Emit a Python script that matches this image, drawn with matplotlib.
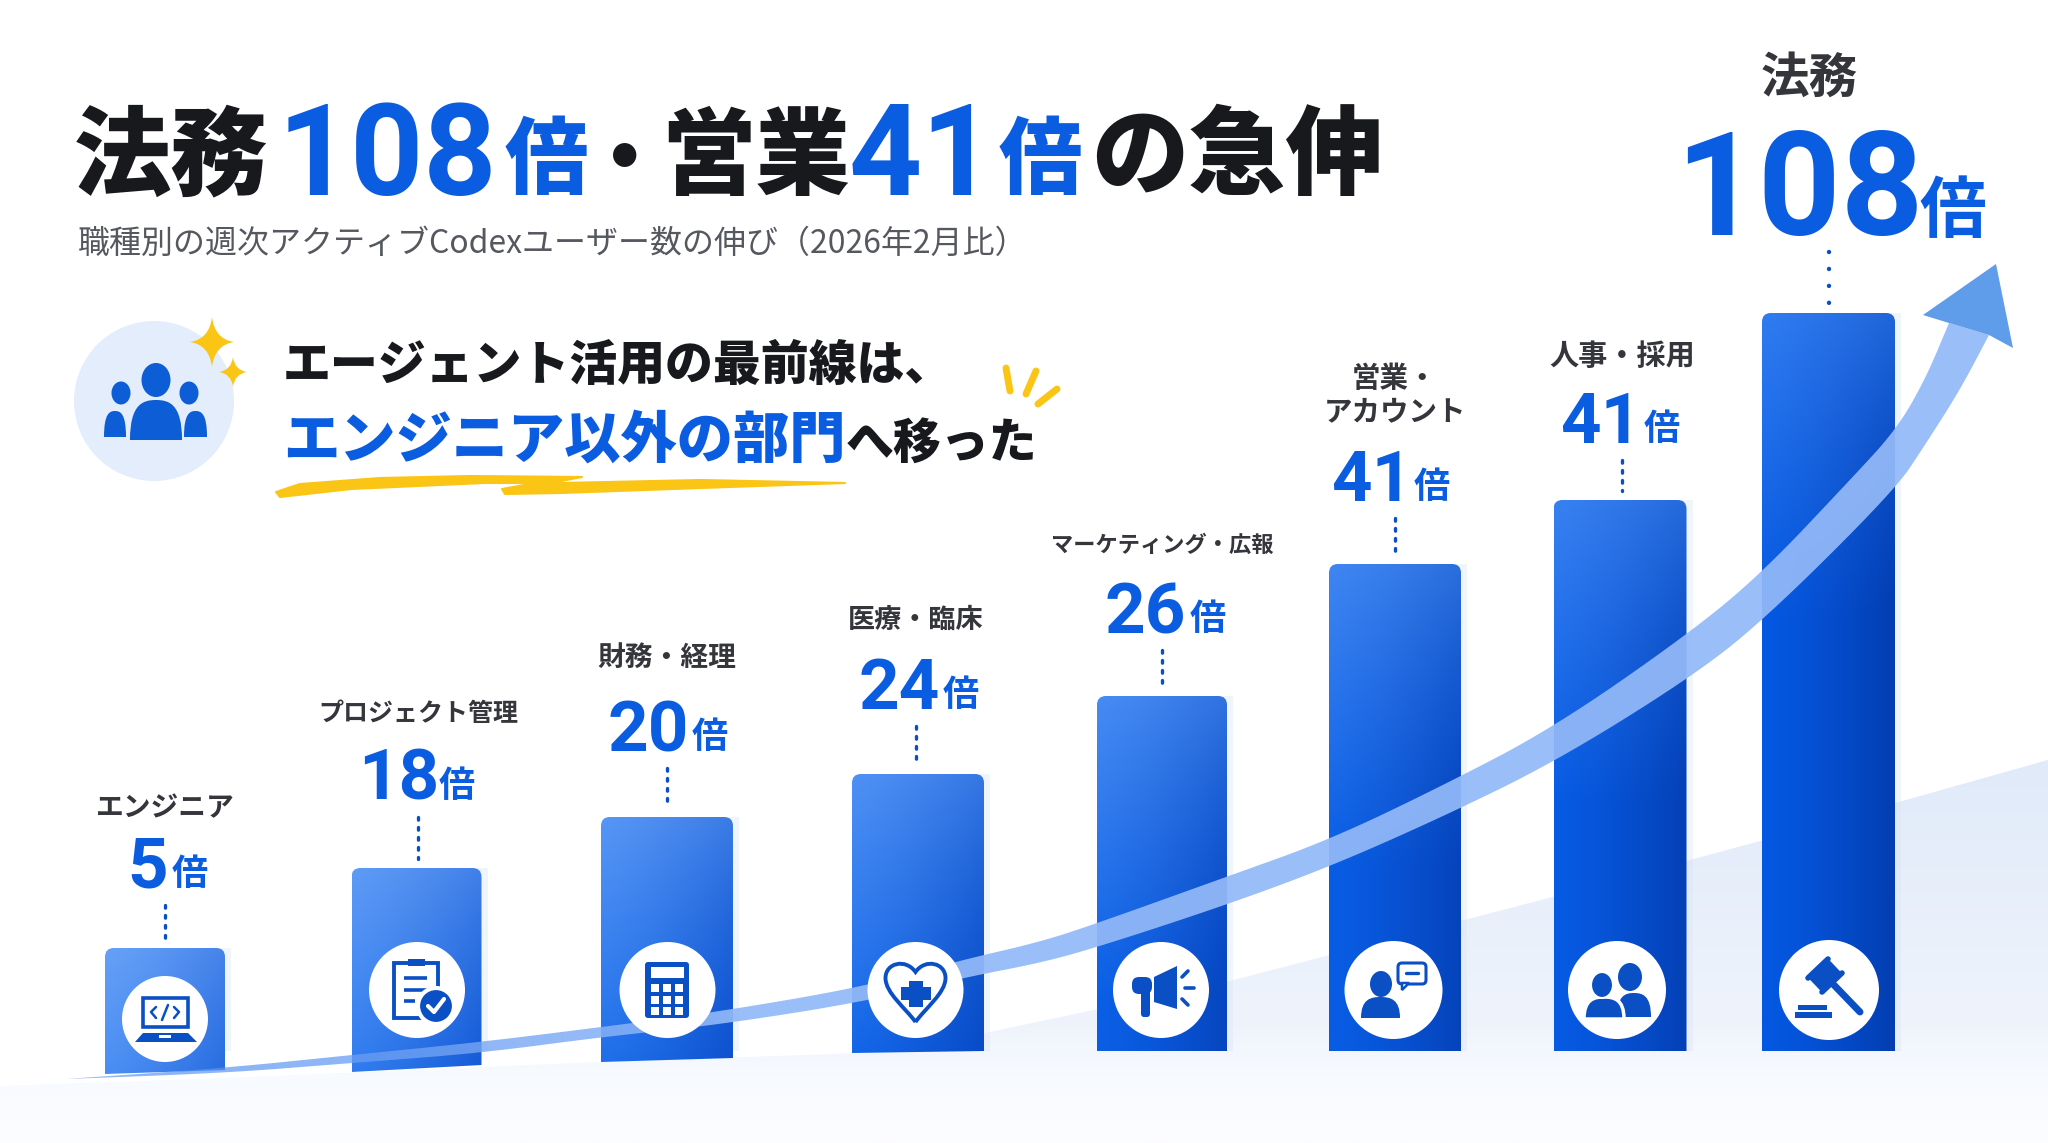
import numpy as np
import matplotlib
matplotlib.use('Agg')
import matplotlib.pyplot as plt
from matplotlib.colors import to_rgb
from matplotlib.patches import Circle, Ellipse, Polygon, Rectangle, PathPatch, FancyBboxPatch
from matplotlib.path import Path

# data
categories = ['エンジニア', 'プロジェクト管理', '財務・経理', '医療・臨床',
              'マーケティング・広報', '営業・\nアカウント', '人事・採用', '法務']
multiples = [5, 18, 20, 24, 26, 41, 41, 108]
# drawn height of each bar (the picture is not to scale with the multiples)
bar_heights = [103, 183, 234, 277, 355, 487, 551, 738]

title_runs = [('法務', 'k'), ('108', 'b'), ('倍', 'b'), ('・', 'k'), ('営業', 'k'),
              ('41', 'b'), ('倍', 'b'), ('の急伸', 'k')]
subtitle = '職種別の週次アクティブCodexユーザー数の伸び（2026年2月比）'
headline_1 = 'エージェント活用の最前線は、'
headline_2a = 'エンジニア以外の部門'
headline_2b = 'へ移った'
unit = '倍'

# layout, in pixels of the 2048x1143 picture
W, H = 2048, 1143
BASE = 1051
bar_x = [165, 416.5, 667, 918, 1162, 1395, 1620, 1828.5]
bar_w = [120, 130, 132, 132, 130, 132, 133, 133]
bar_drop = [23, 21, 11, 2, 0, 0, 0, 0]    # how far the bottom left corner hangs below BASE
bar_slope = [4, 7, 4, 2, 0, 0, 0, 0]      # rise of bottom edge to the right
icon_x = [165, 417, 667.5, 915.5, 1161, 1393.5, 1617, 1829]
icon_y = [1019, 990, 990, 990, 990, 990, 990, 990]
icon_r = [43, 48, 48, 48, 48, 49, 49, 50]
dot_x = [165, 418, 667, 915.5, 1162, 1395, 1622, 1829]
label_y = [808, 714, 658, 620, 545, 396, 356, 78]
label_size = [20, 18, 20, 19.5, 16, 20.5, 21, 35]
num_base = [888, 800, 751, 709, 633, 501, 443, 235]
num_span = [(129, 166), (363, 435), (609, 687), (858, 940), (1104, 1186), (1332, 1412), (1563, 1638), (1687, 1911)]
unit_span = [(173, 207), (440, 474), (692, 727), (944, 978), (1191, 1225), (1414, 1450), (1643, 1680), (1920, 1985)]
num_size = [51, 51, 51, 51, 51, 51, 51, 104]
unit_size = [26, 26, 26, 26, 26, 26, 26, 48]

INK = '#17191d'
BLUE = '#0a5ce0'
NAVY = '#0b4fc4'
YELLOW = '#fbc516'
CJK = ['Noto Sans CJK JP', 'DejaVu Sans']
NUM = ['Roboto', 'Noto Sans CJK JP']

fig = plt.figure(figsize=(W / 100, H / 100), dpi=100, facecolor='white')


def pixel_axes(z):
    a = fig.add_axes([0, 0, 1, 1], zorder=z)
    a.set_xlim(0, W)
    a.set_ylim(H, 0)
    a.axis('off')
    return a


ax_bg = pixel_axes(0)
ax = fig.add_axes([0, 0, 1, 1], zorder=1)       # bars, y up from the baseline
ax.set_xlim(0, W)
ax.set_ylim(BASE - H, BASE)
ax.axis('off')
ax_fg = pixel_axes(2)


def lerp(c1, c2, t):
    return np.array(to_rgb(c1)) * (1 - t) + np.array(to_rgb(c2)) * t


def chaikin(pts, rounds=3):
    # corner cutting, keeps the two ends
    p = np.array(pts, dtype=float)
    for _ in range(rounds):
        q = [p[0]]
        for a, b in zip(p[:-1], p[1:]):
            q += [0.75 * a + 0.25 * b, 0.25 * a + 0.75 * b]
        q.append(p[-1])
        p = np.array(q)
    return p


# pale floor behind the bars
floor = Polygon([(0, 1086), (200, 1079), (600, 1062), (860, 1053), (985, 1033), (1226, 982),
                 (1541, 900), (1753, 843), (2048, 760), (2048, H), (0, H)], fc='none', ec='none')
ax_bg.add_patch(floor)
stops = [(0, '#e0eaf9'), (0.7, '#eff4fc'), (0.82, '#f7faff'), (1, '#fcfdff')]
grad = np.zeros((200, 1, 3))
for i, t in enumerate(np.linspace(0, 1, 200)):
    for (t0, c0), (t1, c1) in zip(stops[:-1], stops[1:]):
        if t0 <= t <= t1:
            grad[i, 0] = lerp(c0, c1, (t - t0) / (t1 - t0))
im = ax_bg.imshow(grad, extent=[0, W, H, 760], aspect='auto', zorder=1)
im.set_clip_path(floor)
ax_bg.set_xlim(0, W)
ax_bg.set_ylim(H, 0)

# soft shadow on the right of each bar, then the gradient bars
ax.bar(np.array(bar_x) + 6, bar_heights, width=bar_w, color='#dbe5f6', alpha=0.4, linewidth=0, zorder=1)

for i, (x, w, h) in enumerate(zip(bar_x, bar_w, bar_heights)):
    k = i / 7
    l, r = x - w / 2, x + w / 2
    top = h
    bl, br = -bar_drop[i], -bar_drop[i] + bar_slope[i]
    c = 9
    verts = [(l, bl), (r, br), (r, top - c), (r, top), (r - c, top), (l + c, top), (l, top), (l, top - c), (l, bl)]
    codes = [Path.MOVETO, Path.LINETO, Path.LINETO, Path.CURVE3, Path.CURVE3, Path.LINETO, Path.CURVE3, Path.CURVE3, Path.CLOSEPOLY]
    patch = PathPatch(Path(verts, codes), fc='none', ec='none', zorder=2)
    ax.add_patch(patch)
    tl = lerp('#66a0f7', '#2f7bf0', k)
    mid = lerp('#1268ea', '#0558e2', k)
    brc = lerp('#0b50d2', '#033cae', k)
    n = 120
    gx, gy = np.meshgrid(np.linspace(0, 1, n), np.linspace(0, 1, n))
    v = np.clip(gy * h / 300, 0, 1)
    mix = gx ** 1.3 * (0.35 + 0.6 * v)
    img = np.zeros((n, n, 3))
    for ch in range(3):
        col = tl[ch] + (mid[ch] - tl[ch]) * v
        img[..., ch] = col + (brc[ch] - col) * mix
    im = ax.imshow(img, extent=[l, r, bl - 4, top], origin='upper', aspect='auto', zorder=2)
    im.set_clip_path(patch)
ax.set_xlim(0, W)
ax.set_ylim(BASE - H, BASE)

# rising arrow
upper = [(66, 1079), (225, 1068), (352, 1055), (481, 1042), (602, 1027), (717, 1012), (863, 987), (962, 960),
         (1040, 942), (1098, 923), (1226, 877), (1329, 840), (1440, 787), (1553, 728), (1687, 635), (1762, 573),
         (1850, 480), (1896, 430), (1925, 380), (1949, 323)]
lower = [(1989, 335), (1960, 390), (1925, 445), (1895, 490), (1762, 622), (1687, 680), (1553, 763), (1440, 818),
         (1329, 867), (1226, 905), (1098, 947), (1040, 963), (962, 978), (863, 1002), (717, 1025), (602, 1037),
         (481, 1053), (352, 1063), (225, 1073), (66, 1079)]
ribbon = Polygon(np.vstack([chaikin(upper), chaikin(lower)]), closed=True, fc='none', ec='none')
ax_fg.add_patch(ribbon)
rgba = np.zeros((1, 400, 4))
for j, t in enumerate(np.linspace(0, 1, 400)):
    c = lerp('#4a8af0', '#93b9f8', min(t / 0.35, 1))
    rgba[0, j] = [c[0], c[1], c[2], 0.62 + 0.31 * min(t / 0.35, 1)]
im = ax_fg.imshow(rgba, extent=[60, 2000, 1100, 300], aspect='auto', zorder=1)
im.set_clip_path(ribbon)
ax_fg.set_xlim(0, W)
ax_fg.set_ylim(H, 0)
ax_fg.add_patch(Polygon([(1996, 264), (1923, 315), (1949, 323), (1989, 335), (2013, 348)], fc='#5f9ce9', ec='none', zorder=1.5))


# icons
def line(pts, lw=2.5, c=NAVY, cap='round', z=4):
    xs, ys_ = zip(*pts)
    ax_fg.plot(xs, ys_, color=c, lw=lw, solid_capstyle=cap, solid_joinstyle='round', zorder=z)


def fill(patch, z=4):
    ax_fg.add_patch(patch)
    patch.set_zorder(z)


def dome(x0, x1, top, bottom, c=NAVY, z=4, ec='none', lw=0):
    # rounded body of a person icon
    xm = (x0 + x1) / 2
    verts = [(x0, bottom), (x0, top + (bottom - top) * 0.1), (x0 + (xm - x0) * 0.5, top), (xm, top),
             (x1 - (x1 - xm) * 0.5, top), (x1, top + (bottom - top) * 0.1), (x1, bottom), (x0, bottom)]
    codes = [Path.MOVETO, Path.CURVE4, Path.CURVE4, Path.CURVE4, Path.CURVE4, Path.CURVE4, Path.CURVE4, Path.CLOSEPOLY]
    fill(PathPatch(Path(verts, codes), fc=c, ec=ec, lw=lw), z)


def sparkle(cx, cy, hw, hh):
    s = 0.12
    verts = [(cx, cy - hh), (cx + hw * s, cy - hh * s), (cx + hw, cy), (cx + hw * s, cy + hh * s), (cx, cy + hh),
             (cx - hw * s, cy + hh * s), (cx - hw, cy), (cx - hw * s, cy - hh * s), (cx, cy - hh)]
    codes = [Path.MOVETO, Path.CURVE3, Path.CURVE3, Path.CURVE3, Path.CURVE3, Path.CURVE3, Path.CURVE3, Path.CURVE3, Path.CURVE3]
    fill(PathPatch(Path(verts, codes), fc=YELLOW, ec='none'))


for cx, cy, r in zip(icon_x, icon_y, icon_r):
    fill(Circle((cx, cy), r, fc='white', ec='none'), 3)

# laptop
fill(Rectangle((143, 998), 45, 29, fc='none', ec=NAVY, lw=2.6))
fill(Polygon([(143, 1033), (188, 1033), (197, 1042), (135, 1042)], fc=NAVY, ec='none'))
fill(Rectangle((159, 1035), 12, 3, fc='white', ec='none'), 5)
line([(156, 1007), (151, 1012), (156, 1018)], 1.8)
line([(174, 1007), (179, 1012), (174, 1018)], 1.8)
line([(168, 1005), (162, 1020)], 1.8)
# clipboard
fill(Rectangle((394, 963), 44, 55, fc='none', ec=NAVY, lw=2.8))
fill(Rectangle((408, 959), 17, 7, fc=NAVY, ec='none'))
for yy, x1 in zip([978, 990, 1001], [427, 427, 415]):
    line([(404, yy), (x1, yy)], 2.6, cap='butt')
fill(Circle((436, 1006), 18, fc=NAVY, ec='white', lw=3), 5)
line([(428, 1006), (434, 1012), (444, 999)], 3, c='white', z=6)
# calculator
fill(FancyBboxPatch((645, 962), 44, 56, boxstyle='round,pad=0,rounding_size=3', fc=NAVY, ec='none'))
fill(Rectangle((651, 967), 33, 11, fc='white', ec='none'), 5)
for ky in [984, 996, 1007]:
    for kx in [651, 663, 675]:
        fill(Rectangle((kx, ky), 8, 8, fc='white', ec='none'), 5)
# heart with a cross
hx, hy = 915.5, 963
heart = [(hx, hy + 59), (hx - 10, hy + 45), (hx - 30, hy + 30), (hx - 30, hy + 15), (hx - 30, hy), (hx - 10, hy - 5), (hx, hy + 9),
         (hx + 10, hy - 5), (hx + 30, hy), (hx + 30, hy + 15), (hx + 30, hy + 30), (hx + 10, hy + 45), (hx, hy + 59)]
fill(PathPatch(Path(heart, [Path.MOVETO] + [Path.CURVE4] * 12), fc='none', ec=NAVY, lw=2.8))
fill(Rectangle((hx - 7, hy + 18), 14, 26, fc=NAVY, ec='none'))
fill(Rectangle((hx - 15, hy + 24), 30, 13, fc=NAVY, ec='none'))
# megaphone
fill(Polygon([(1154, 977), (1177, 966), (1177, 1009), (1154, 1002)], fc=NAVY, ec='none'))
fill(FancyBboxPatch((1132, 977), 20, 17, boxstyle='round,pad=0,rounding_size=7', fc=NAVY, ec='none'))
fill(FancyBboxPatch((1141, 990), 9, 27, boxstyle='round,pad=0,rounding_size=3', fc=NAVY, ec='none'))
line([(1182, 977), (1188, 971)], 2.6)
line([(1185, 988), (1194, 988)], 2.6)
line([(1182, 999), (1188, 1005)], 2.6)
# person with speech bubble
fill(Ellipse((1381, 984), 22, 26, fc=NAVY, ec='none'))
dome(1361, 1400, 997, 1018)
fill(FancyBboxPatch((1398, 963), 28, 21, boxstyle='round,pad=0,rounding_size=4', fc='white', ec=NAVY, lw=2.2))
fill(Polygon([(1402, 983), (1409, 983), (1402, 990)], fc='white', ec=NAVY, lw=1.8), 4)
line([(1406, 973), (1418, 973)], 2.4, z=5)
# two people
fill(Ellipse((1630, 977), 24, 28, fc=NAVY, ec='none'))
dome(1617, 1651, 993, 1017)
dome(1584, 1624, 997, 1019, ec='white', lw=2.5)
fill(Ellipse((1602, 985), 22, 26, fc=NAVY, ec='white', lw=1.5))
# gavel
line([(1815, 985), (1835, 966)], 14, cap='butt')
line([(1808, 978), (1828, 959)], 4)
line([(1822, 992), (1842, 973)], 4)
line([(1833, 984), (1860, 1012)], 5)
fill(Rectangle((1798, 1005), 29, 5, fc=NAVY, ec='none'))
fill(Rectangle((1795, 1012), 37, 6, fc=NAVY, ec='none'))

# people badge and sparkles in the top left
fill(Circle((154, 401), 80, fc='#e4edfb', ec='none'), 2)
sparkle(212, 342, 22, 25)
sparkle(233, 372, 14, 15)
fill(Ellipse((156, 380), 29, 34, fc='#0c5dd6', ec='none'))
dome(130, 182, 400, 440, c='#0c5dd6')
fill(Ellipse((121, 393), 19, 23, fc='#0c5dd6', ec='none'))
fill(Ellipse((189, 393), 19, 23, fc='#0c5dd6', ec='none'))
dome(104, 126, 411, 437, c='#0c5dd6')
dome(184, 207, 411, 437, c='#0c5dd6')

# yellow underline and accent ticks
squiggle = [(276, 492), (300, 484), (380, 478), (470, 476), (582, 477), (545, 484), (561, 483), (701, 480), (845, 483),
            (701, 488), (561, 493), (505, 494), (502, 489), (535, 483), (484, 483), (351, 489), (280, 497)]
fill(Polygon(squiggle, closed=True, fc=YELLOW, ec=YELLOW, lw=1.5, joinstyle='round'))
line([(1006, 368), (1010, 391)], 5, YELLOW)
line([(1036, 371), (1026, 394)], 5, YELLOW)
line([(1057, 389), (1038, 404)], 5, YELLOW)


# text
def label(x, y, s, size, color=INK, weight=400, family=CJK, ha='center', va='baseline', **kw):
    return ax_fg.text(x, y, s, fontsize=size, color=color, fontweight=weight, family=family, ha=ha, va=va, zorder=8, **kw)


title_pos = [(171, 70), (387, 92), (546, 60), (625, 60), (756, 68), (922, 92), (1040, 60), (1237, 70)]
title_fw = [900, 700, 900, 900, 900, 700, 900, 900]
for (s, c), (x, size), w in zip(title_runs, title_pos, title_fw):
    col = BLUE if c == 'b' else INK
    fam = NUM if s.isdigit() else CJK
    label(x, 195 if s.isdigit() else 187, s, size, col, w, fam)

label(78, 253, subtitle, 23, '#55585e', 400, ha='left')
label(283, 380, headline_1, 34.5, INK, 800, ha='left')
label(283, 458, headline_2a, 40.5, BLUE, 800, ha='left')
label(846, 458, headline_2b, 34.5, INK, 800, ha='left')

for i, cat in enumerate(categories):
    label(dot_x[i] if i != 7 else 1809, label_y[i], cat, label_size[i], '#34363b', 600, va='center', linespacing=1.25)
    ns, us = num_span[i], unit_span[i]
    label((ns[0] + ns[1]) / 2, num_base[i], str(multiples[i]), num_size[i], BLUE, 700, NUM)
    label((us[0] + us[1]) / 2, num_base[i] - 3, unit, unit_size[i], BLUE, 700)
    top_px = BASE - bar_heights[i]
    # the last dotted line has bigger, wider spaced dots
    lw, dash = (3.2, (0.01, 3.8)) if i == 7 else (2.4, (0.8, 2.2))
    ax_fg.plot([dot_x[i], dot_x[i]], [num_base[i] + 17, top_px - 9], color=NAVY, lw=lw,
               linestyle=(0, dash), dash_capstyle='round', zorder=6)

fig.savefig('out.png', dpi=100, facecolor='white')
